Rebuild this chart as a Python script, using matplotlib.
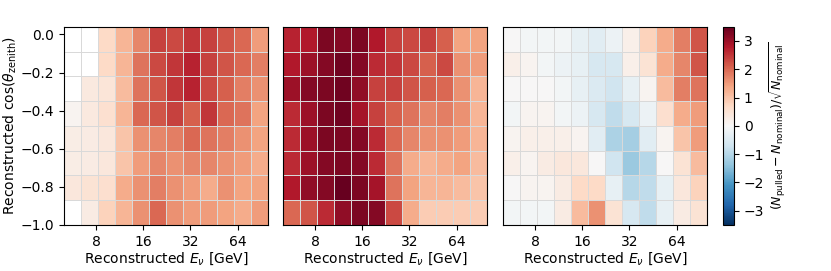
import numpy as np
import matplotlib
matplotlib.use('Agg')
import matplotlib.pyplot as plt

# bin edges
e_edges = [5.0, 6.42, 8.24, 10.58, 13.58, 17.44, 22.39, 28.75, 36.91, 47.39, 60.85, 78.12, 100.0]
cos_edges = [-1.0, -0.87, -0.74, -0.61, -0.48, -0.35, -0.22, -0.09, 0.04]

nan = np.nan
# rows listed from top (cos ~ 0) to bottom (cos = -1)
pull_a = [
    [nan, nan, 0.7, 1.2, 1.7, 2.4, 2.3, 2.5, 2.4, 2.2, 2.0, 1.5],
    [nan, nan, 0.7, 1.2, 1.9, 2.3, 2.5, 2.7, 2.4, 2.2, 2.0, 1.8],
    [nan, 0.35, 0.45, 1.1, 1.9, 2.2, 2.5, 2.7, 2.3, 2.1, 1.8, 1.6],
    [0.1, 0.35, 0.55, 1.2, 2.0, 2.2, 2.4, 2.1, 2.5, 2.0, 1.9, 1.4],
    [0.25, 0.3, 0.4, 1.0, 1.6, 1.7, 1.8, 2.0, 1.9, 1.8, 1.6, 1.4],
    [0.25, 0.3, 0.4, 1.0, 1.5, 1.7, 1.6, 1.7, 1.7, 1.6, 1.5, 1.3],
    [0.4, 0.5, 0.6, 1.3, 1.6, 1.8, 1.6, 1.5, 1.3, 1.6, 1.4, 1.4],
    [nan, 0.3, 0.8, 1.2, 1.6, 2.0, 1.6, 1.5, 1.5, 1.4, 1.3, 1.5],
]
pull_b = [
    [2.7, 2.8, 3.3, 3.2, 3.3, 2.8, 2.4, 2.3, 2.4, 2.1, 1.4, 1.4],
    [2.8, 3.0, 3.2, 3.4, 3.2, 2.6, 2.5, 2.3, 2.1, 2.3, 1.6, 1.5],
    [3.0, 3.2, 3.3, 3.4, 3.1, 2.4, 2.4, 2.2, 2.1, 2.0, 1.6, 1.2],
    [2.6, 3.0, 3.3, 3.4, 2.9, 2.4, 2.1, 1.9, 1.7, 1.8, 1.6, 1.2],
    [2.6, 3.0, 3.3, 3.3, 3.2, 2.6, 2.0, 1.7, 1.6, 1.6, 1.5, 1.2],
    [2.6, 3.0, 3.2, 3.3, 3.2, 2.6, 1.9, 1.3, 1.2, 1.3, 1.4, 1.1],
    [2.8, 3.1, 3.2, 3.5, 3.3, 2.9, 1.9, 1.4, 1.2, 1.2, 1.1, 1.0],
    [2.0, 2.2, 2.6, 3.1, 3.3, 3.2, 2.3, 1.3, 0.9, 0.9, 0.9, 0.9],
]
pull_c = [
    [0.0, -0.1, -0.1, -0.1, -0.3, -0.4, -0.2, 0.2, 0.8, 1.3, 1.8, 2.2],
    [0.2, 0.1, -0.1, -0.2, -0.3, -0.6, -0.6, 0.2, 0.5, 1.3, 1.7, 2.2],
    [0.0, 0.0, 0.0, -0.1, -0.3, -0.5, -0.7, -0.3, 0.1, 1.1, 1.8, 1.9],
    [-0.1, 0.1, 0.1, -0.1, -0.2, -0.6, -0.9, -0.6, -0.2, 0.6, 1.3, 1.5],
    [0.1, 0.2, 0.2, 0.2, 0.1, -0.4, -1.1, -1.2, -0.4, 0.1, 1.0, 1.5],
    [0.2, 0.1, 0.3, 0.4, 0.4, 0.0, -0.7, -1.3, -1.0, 0.0, 0.5, 1.1],
    [0.0, 0.1, 0.1, 0.3, 0.7, 0.7, -0.3, -1.0, -0.9, -0.3, 0.4, 0.8],
    [-0.1, -0.1, -0.1, 0.3, 1.1, 1.6, 0.5, -0.6, -0.9, -0.3, 0.3, 0.5],
]

xticks = [8, 16, 32, 64]
yticks = [0.0, -0.2, -0.4, -0.6, -0.8, -1.0]

fig = plt.figure(figsize=(8.31, 2.71), dpi=100)
lefts = [0.077, 0.3406, 0.6053]
axes = [fig.add_axes([l, 0.170, 0.2455, 0.731]) for l in lefts]
cax = fig.add_axes([0.870, 0.170, 0.0132, 0.731])

for ax, vals in zip(axes, [pull_a, pull_b, pull_c]):
    z = np.ma.masked_invalid(np.array(vals)[::-1])
    mesh = ax.pcolormesh(e_edges, cos_edges, z, cmap='RdBu_r', vmin=-3.5, vmax=3.5,
                         edgecolors='0.85', linewidth=0.6)
    ax.set_xscale('log')
    ax.set_xlim(e_edges[0], e_edges[-1])
    ax.set_ylim(cos_edges[0], cos_edges[-1])
    ax.set_xticks(xticks)
    ax.set_xticklabels([str(t) for t in xticks])
    ax.minorticks_off()
    ax.tick_params(labelsize=10)
    ax.set_xlabel(r'Reconstructed $E_\nu$ [GeV]', fontsize=10, labelpad=1)
    ax.set_yticks([])

axes[0].set_yticks(yticks)
axes[0].set_yticklabels(['0.0', '\u22120.2', '\u22120.4', '\u22120.6', '\u22120.8', '\u22121.0'])
axes[0].set_ylabel(r'Reconstructed $\cos(\theta_{\rm zenith})$', fontsize=10, labelpad=1)

cb = fig.colorbar(mesh, cax=cax)
cb.set_ticks([-3, -2, -1, 0, 1, 2, 3])
cb.ax.tick_params(labelsize=10)
cb.set_label(r'$(N_{\rm pulled}-N_{\rm nominal})/\sqrt{N_{\rm nominal}}$', fontsize=9, labelpad=2)

fig.savefig('out.png', dpi=100)
